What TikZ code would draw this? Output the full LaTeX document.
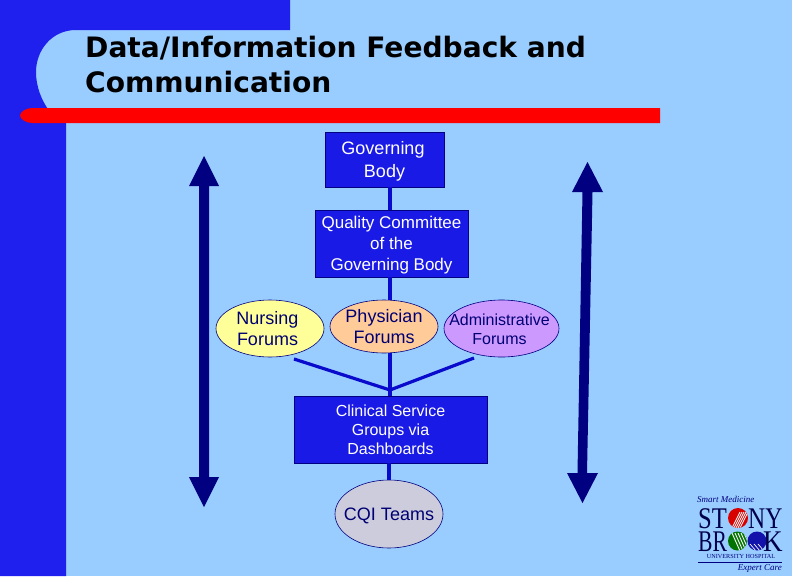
\documentclass[tikz,border=0pt]{standalone}
\usepackage{fontspec}
\setmainfont{Liberation Sans}
\newfontfamily\titlefont{DejaVu Sans}
\newfontfamily\logofont{Liberation Serif}
\usetikzlibrary{shapes.geometric}
\definecolor{bgblue}{HTML}{99CCFF}
\definecolor{bandblue}{HTML}{1F1FEE}
\definecolor{boxblue}{HTML}{1A1AE6}
\definecolor{navy}{HTML}{000080}
\definecolor{linkblue}{HTML}{0A0ACC}
\definecolor{nurse}{HTML}{FFFF99}
\definecolor{phys}{HTML}{FFCC99}
\definecolor{admin}{HTML}{CC99FF}
\definecolor{cqi}{HTML}{CCCCDD}
\definecolor{rulered}{HTML}{FF0000}
\tikzset{
  bluebox/.style={draw=navy,line width=0.4pt,fill=boxblue,text=white,align=center,inner sep=0pt,font=\fontsize{#1}{#1}\selectfont},
  forum/.style={ellipse,draw=navy,line width=0.6pt,inner xsep=-14pt,inner ysep=-8pt,align=center,text=navy!90!black},
  link/.style={draw=linkblue,line width=3.2pt},
  bigarrow/.style={fill=navy,draw=none},
  logotext/.style={inner sep=0pt,text=navy!60!black,font=\logofont\fontsize{30}{30}\selectfont,anchor=base west},
  logosmall/.style={inner sep=0pt,text=navy,font=\logofont\itshape\fontsize{9}{9}\selectfont},
}
\begin{document}
\begin{tikzpicture}[x=1pt,y=-1pt]
\useasboundingbox (0,0) rectangle (792,576);
\fill[bgblue] (0,0) rectangle (792,576);
% frame
\fill[bandblue] (0,0) -- (290,0) -- (290,30) -- (76,30)
  .. controls (52,30) and (36,50) .. (36,72)
  .. controls (36,86) and (41,100) .. (50,112)
  -- (66,122) -- (66,576) -- (0,576) -- cycle;
\fill[rulered] (660,108) -- (660,123) -- (32,123)
  .. controls (26,123) and (20,119) .. (20,115.5)
  .. controls (20,112) and (26,108) .. (32,108) -- cycle;
% title
\node[anchor=west,inner sep=0pt,text=black,font=\titlefont\bfseries\fontsize{28.1}{28.1}\selectfont] (t1) at (85,48) {Data/Information Feedback and};
\node[anchor=west,inner sep=0pt,text=black,font=\titlefont\bfseries\fontsize{28.1}{28.1}\selectfont] (t2) at (85,82) {Communication};
% connectors
\coordinate (fork) at (390,390);
\coordinate (nurend) at (294,359);
\coordinate (admend) at (474,358);
% nodes
\node[bluebox=18,minimum width=119,minimum height=55] (gov) at (384.5,159.5) {\rule{0pt}{16pt}\hspace*{-3pt}Governing\\[5pt]Body};
\node[bluebox=17,minimum width=153,minimum height=67] (qual) at (391.5,243.5) {\rule{0pt}{16pt}Quality Committee\\[4pt]of the\\[4pt]Governing Body};
\node[forum,fill=nurse,minimum width=108,minimum height=57,font=\fontsize{18}{18}\selectfont] (nur) at (270,328.5) {\rule{0pt}{13pt}\hspace*{-5pt}Nursing\\[3pt]\hspace*{-5pt}Forums};
\node[forum,fill=phys,minimum width=108,minimum height=53,font=\fontsize{18}{18}\selectfont] (phy) at (384,326.5) {Physician\\[3pt]Forums};
\node[forum,fill=admin,minimum width=115,minimum height=57,font=\fontsize{16}{16}\selectfont] (adm) at (501.5,328.5) {\rule{0pt}{13pt}\hspace*{-4pt}Administrative\\[3pt]\hspace*{-4pt}Forums};
\node[bluebox=16,minimum width=193,minimum height=67] (clin) at (390.5,429.5) {Clinical Service\\[3pt]Groups via\\[3pt]Dashboards};
\node[forum,fill=cqi,minimum width=108,minimum height=68,font=\fontsize{18}{18}\selectfont] (cq) at (389,514) {\rule{0pt}{17pt}CQI Teams};
\draw[link] (gov.south -| fork) -- (qual.north -| fork);
\draw[link] (qual.south -| fork) -- (phy.north -| fork);
\draw[link] (phy.south -| fork) -- (fork);
\draw[link] (fork) -- (clin.north -| fork);
\draw[link] (clin.south -| cq) -- (cq.north);
\draw[link,line join=miter] (nurend) -- (fork) -- (admend);
% big arrows
\fill[bigarrow] (204,156) -- (219,186) -- (209,186) -- (209,477) -- (219,477) -- (204,507) -- (189,477) -- (199,477) -- (199,186) -- (189,186) -- cycle;
\fill[bigarrow] (587.5,162) -- (603,192) -- (592.5,192) -- (587,473) -- (598,473) -- (582.5,503) -- (567,473) -- (577.5,473) -- (582.5,192) -- (572,192) -- cycle;
% logo
\node[logosmall,anchor=west] (l1) at (697,499.5) {Smart Medicine};
\node[logotext] (l2a) at (698,528) {\scalebox{0.82}[1]{ST}};
\node[logotext] (l2b) at (748,528) {\scalebox{0.79}[1]{NY}};
\node[logotext] (l3a) at (698,551) {\scalebox{0.72}[1]{BR}};
\node[logotext] (l3b) at (763,551) {\scalebox{0.9}[1]{K}};
\begin{scope}
\clip (738,518) circle (10);
\fill[red!85!black] (728,508) rectangle (748,528);
\foreach \k in {0,2,4,6,8} \draw[white,line width=0.8pt] (732+\k,528) -- (740+\k,512);
\end{scope}
\begin{scope}
\clip (737.5,541) circle (9.5);
\fill[green!45!black] (727,531) rectangle (748,551);
\foreach \k in {0,3,6,9,12} \draw[white,line width=0.9pt] (732+\k,533) -- (740+\k,551);
\end{scope}
\begin{scope}
\clip (757,541) circle (9.5);
\fill[boxblue!75!black] (747,531) rectangle (767,551);
\foreach \k in {0,4,8} \draw[white,line width=0.7pt] (750+\k,544) -- (756+\k,551);
\end{scope}
\node[inner sep=0pt,font=\logofont\fontsize{6.2}{6.2}\selectfont,text=navy,anchor=center] (l4) at (741,556.5) {UNIVERSITY HOSPITAL};
\draw[navy,line width=0.7pt] (698,562) -- (782,562);
\node[logosmall,anchor=east] (l5) at (782,568.5) {Expert Care};
\end{tikzpicture}
\end{document}
